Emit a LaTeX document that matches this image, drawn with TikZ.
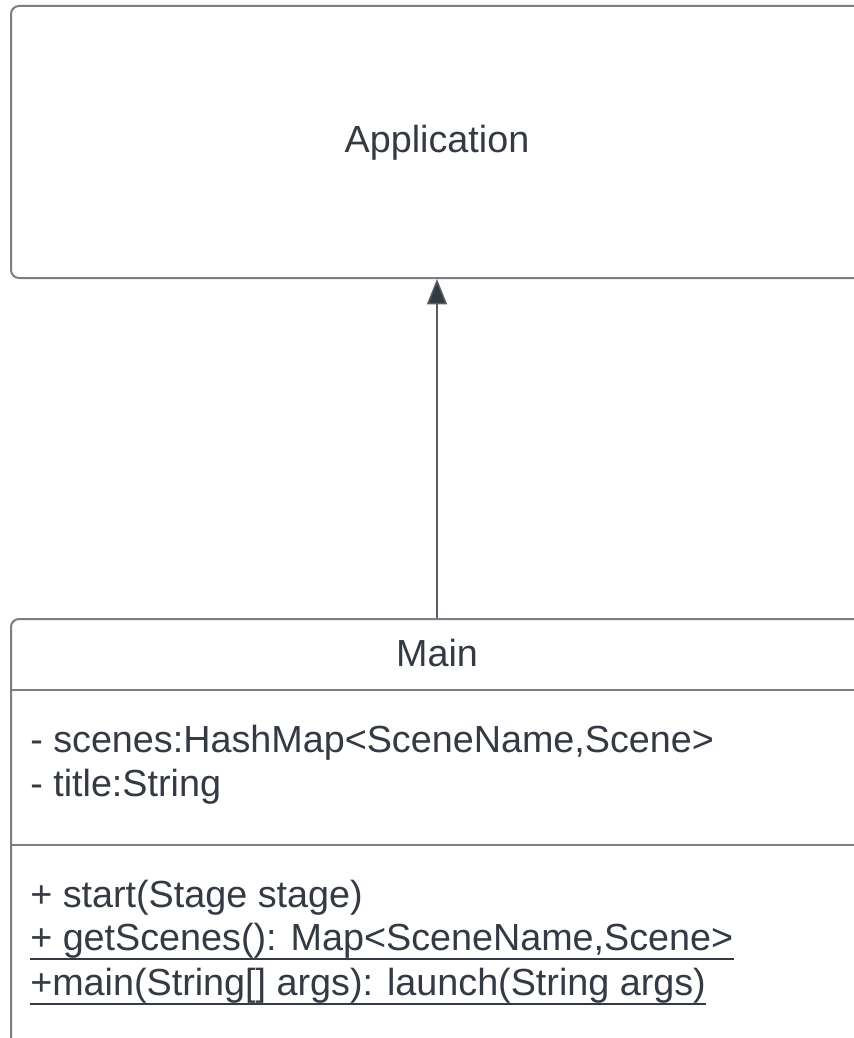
\documentclass[tikz,border=0pt]{standalone}
\usepackage{fontspec}
\setmainfont{Liberation Sans}
\usetikzlibrary{arrows.meta}

\definecolor{boxline}{RGB}{122,126,133}
\definecolor{linkline}{RGB}{90,95,103}
\definecolor{umltext}{RGB}{52,58,67}

\begin{document}
\begin{tikzpicture}[x=0.75pt, y=-0.75pt,
	classbox/.style={draw=boxline, line width=1.5pt, rounded corners=6pt, fill=white},
	member/.style={anchor=base west, inner sep=0pt, text=umltext, font=\fontsize{28.3}{34}\selectfont},
	divider/.style={draw=boxline, line width=1.5pt},
	underbar/.style={draw=umltext, line width=1.6pt},
	inherits/.style={draw=linkline, line width=1.1pt, -{Triangle[length=19pt, width=15pt, fill=umltext]}}]
	\useasboundingbox (0,0) rectangle (853,1038);

	% parent class, its right edge runs off the page
	\node (app) at (437,142) [classbox, minimum width=639pt, minimum height=204pt] {};
	\node (appname) at (437,152) [member, anchor=base] {Application};

	% Main class: title, attributes, operations
	\node (main) at (437,860) [classbox, minimum width=639pt, minimum height=361.5pt] {};
	\node (mainname) at (437,666) [member, anchor=base] {Main};
	\draw[divider] (main.west |- 0,690) -- (main.east |- 0,690);
	\draw[divider] (main.west |- 0,845) -- (main.east |- 0,845);

	\node (scenes) at (30,752) [member] {- scenes:HashMap<SceneName,Scene>};
	\node (title) at (30,796) [member] {- title:String};

	\node (start) at (30,907) [member] {+ start(Stage stage)};
	\node (getscenes) at (30,950) [member] {+ getScenes(): Map<SceneName,Scene>};
	\node (mainop) at (30,995) [member] {+main(String[] args): launch(String args)};

	% static operations are underlined
	\draw[underbar] ([yshift=-6.5pt]getscenes.base west) -- ([yshift=-6.5pt]getscenes.base east);
	\draw[underbar] ([yshift=-7pt]mainop.base west) -- ([yshift=-7pt]mainop.base east);

	% generalisation
	\draw[inherits] (main.north) -- (app.south);
\end{tikzpicture}
\end{document}
